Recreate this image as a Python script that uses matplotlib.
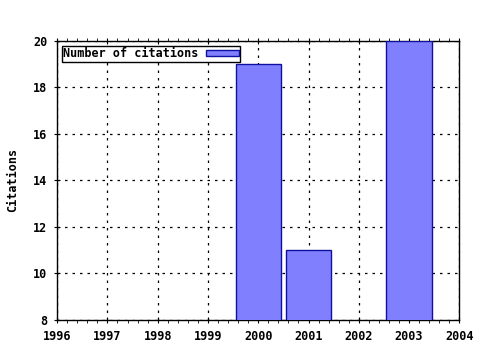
import matplotlib.pyplot as plt
from matplotlib.ticker import MultipleLocator

years = [2000, 2001, 2003]
citations = [19, 11, 20]
series_label = "Number of citations"

plt.rcParams['font.family'] = 'DejaVu Sans Mono'
plt.rcParams['font.weight'] = 'bold'

fig = plt.figure(figsize=(4.8, 3.5), dpi=100)
ax = fig.add_axes([0.119, 0.086, 0.838, 0.797])

ax.bar(years, citations, width=0.9, color='#8080ff', edgecolor='#1010a0',
       linewidth=1, label=series_label, zorder=3)

ax.set_xlim(1996, 2004)
ax.set_ylim(8, 20)
ax.xaxis.set_major_locator(MultipleLocator(1))
ax.yaxis.set_major_locator(MultipleLocator(2))
ax.xaxis.set_minor_locator(MultipleLocator(0.2))
ax.grid(True, which='major', color='black', linestyle=(0, (2, 4)), linewidth=0.9, zorder=0)
ax.tick_params(axis='both', which='major', labelsize=8.5, length=4, direction='inout')
ax.tick_params(axis='y', which='major', pad=5)
ax.tick_params(axis='x', which='major', pad=5, top=True)
ax.tick_params(axis='x', which='minor', length=2, direction='out', top=True)
for s in ax.spines.values():
    s.set_linewidth(1)
    s.set_color('black')

ax.set_ylabel("Citations", fontsize=8.5, fontweight='bold', labelpad=10)

leg = ax.legend(loc='upper left', markerfirst=False, fontsize=8.5, frameon=True,
                fancybox=False, borderpad=0.12, handlelength=2.8, handleheight=0.45,
                handletextpad=0.6, borderaxespad=0.4)
leg.get_frame().set_edgecolor('black')
leg.get_frame().set_linewidth(1)
leg.get_frame().set_alpha(1)

fig.savefig('out.png', dpi=100)
